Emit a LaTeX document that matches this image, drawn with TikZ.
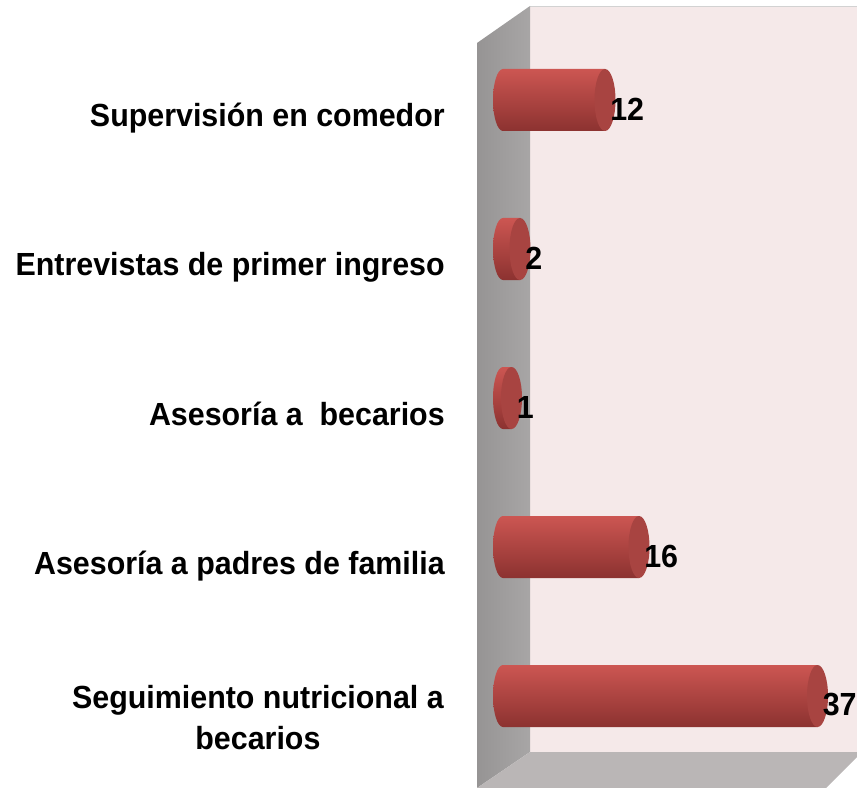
\documentclass[tikz,border=0pt]{standalone}
\usepackage{fontspec}
\usepackage{xcolor}
\usepackage{tikz}
\newfontfamily\chartfont[FakeStretch=0.95]{Liberation Sans}

\definecolor{wallpink}{RGB}{245,233,233}
\definecolor{wallgray}{RGB}{163,161,161}
\definecolor{floorgray}{RGB}{186,182,182}
\definecolor{bartop}{RGB}{204,86,82}
\definecolor{barmid}{RGB}{224,100,96}
\definecolor{barbot}{RGB}{140,50,48}
\definecolor{barcap}{RGB}{168,68,65}

\tikzset{
    lbl/.style={font=\chartfont\bfseries\fontsize{24}{30.75}\selectfont, inner sep=0pt},
    cylbody/.style={top color=bartop, middle color=barmid, bottom color=barbot},
}

\begin{document}
\begin{tikzpicture}[x=0.75pt,y=-0.75pt]
        \useasboundingbox (0,0) rectangle (857,788);
        \clip (0,0) rectangle (857,788);
        % walls and floor
        \fill[wallpink] (530,6) rectangle (857,752);
        \draw[gray!35] (530,6) -- (857,6);
        \shade[left color=wallgray!92!black, right color=wallgray!95!white] (477,43) -- (530,6) -- (530,752) -- (477,788) -- cycle;
        \fill[floorgray] (477,788) -- (530,752) -- (862,752) -- (826,788) -- cycle;
        % bars
        \foreach \v/\yc/\name in {12/100/supervision, 2/249/entrevistas, 1/398/asesoria, 16/547/padres, 37/696/seguimiento} {
            \pgfmathsetmacro\xc{503+8.5*\v}
            \shade[cylbody] (503,\yc-31) -- (\xc,\yc-31) -- (\xc,\yc+31) -- (503,\yc+31)
                arc[start angle=90, end angle=270, x radius=10, y radius=31] -- cycle;
            \fill[barcap] (\xc,\yc) ellipse[x radius=10.5, y radius=31];
            \node[lbl, anchor=west] (val-\name) at (\xc+5,\yc+9) {\v};
        }
        % category labels
        \node[lbl, anchor=base east] (cat-supervision) at (445,127) {Supervisión en comedor};
        \node[lbl, anchor=base east] (cat-entrevistas) at (445,276) {Entrevistas de primer ingreso};
        \node[lbl, anchor=base east] (cat-asesoria) at (445,425) {Asesoría a~ becarios};
        \node[lbl, anchor=base east] (cat-padres) at (445,574) {Asesoría a padres de familia};
        \node[lbl, anchor=east, align=center] (cat-seguimiento) at (444,718) {Seguimiento nutricional a\\becarios};
    \end{tikzpicture}
\end{document}
